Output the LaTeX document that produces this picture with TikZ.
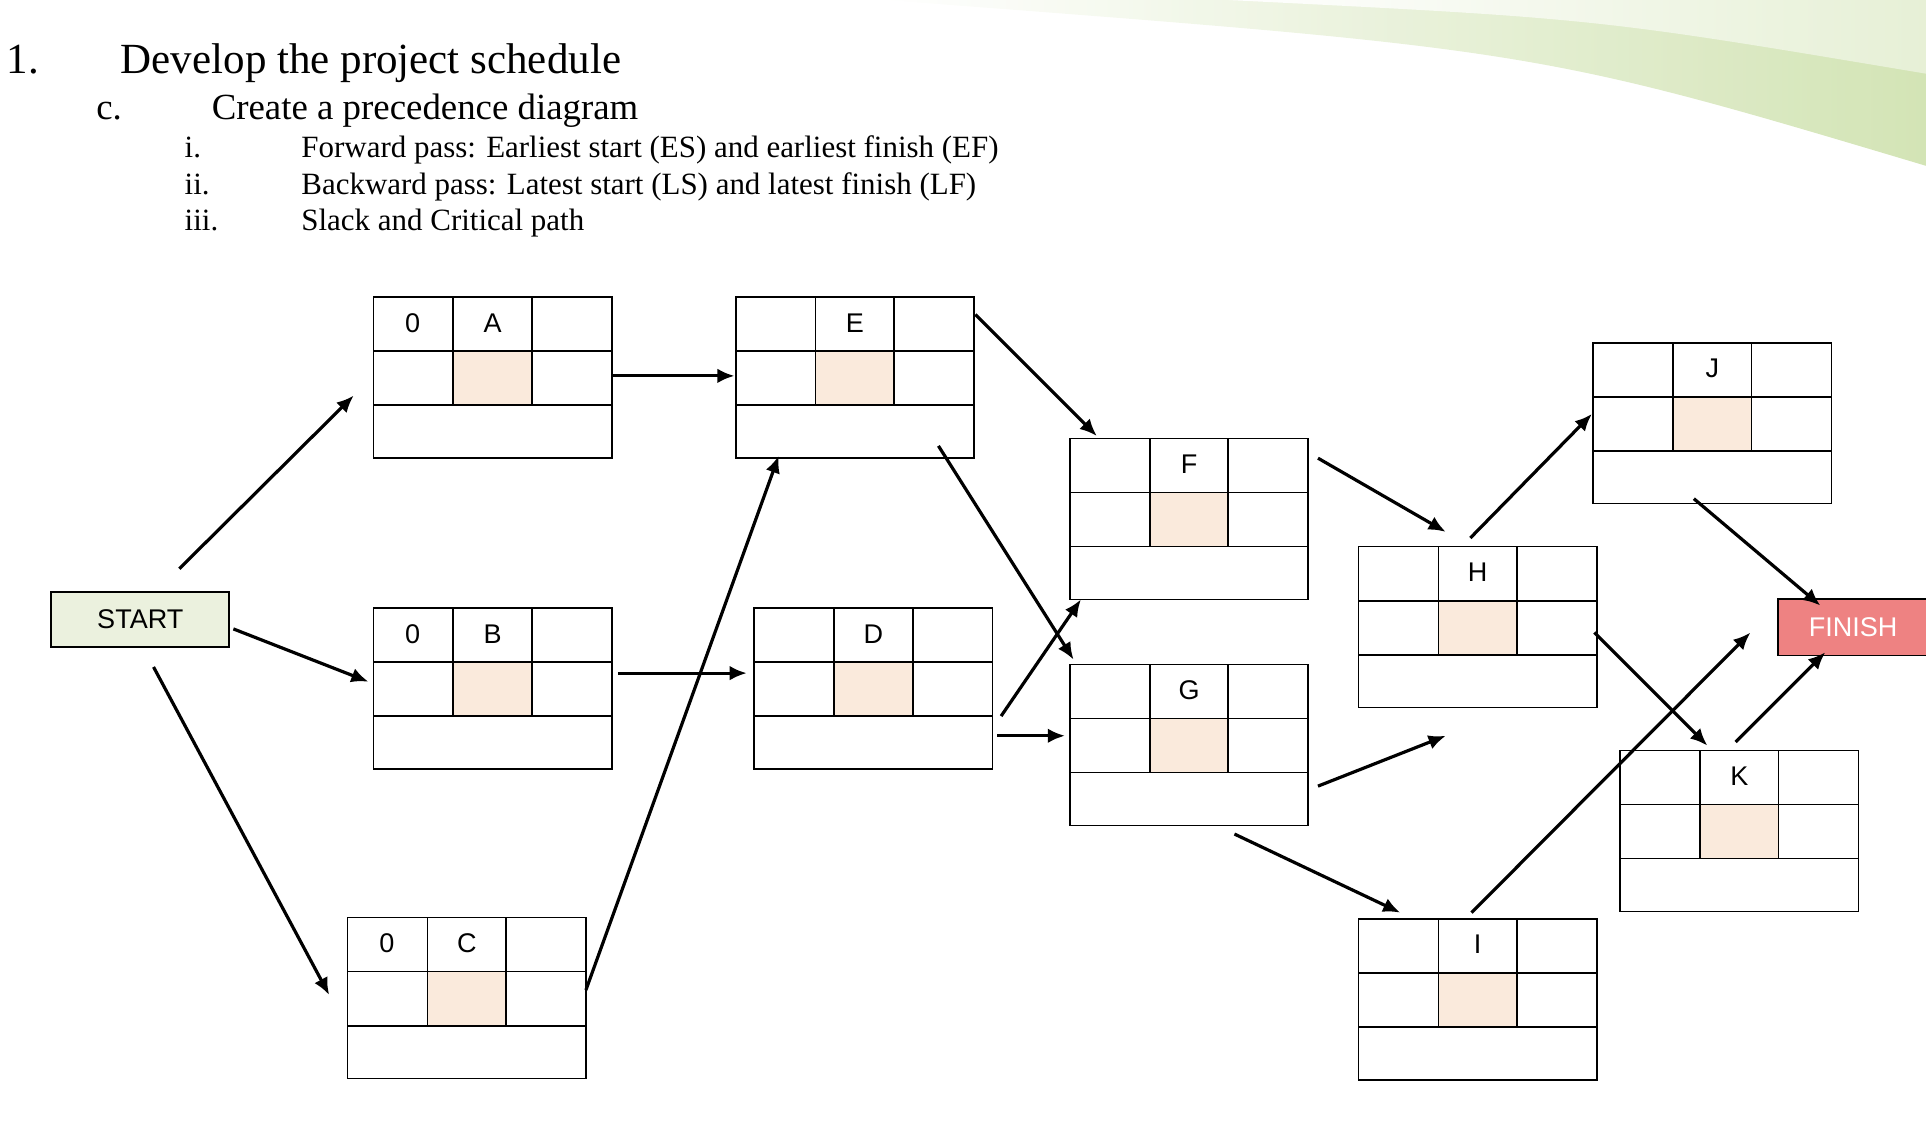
\documentclass[tikz,border=0pt]{standalone}
\usepackage{fontspec}
\setmainfont{Liberation Serif}
\setsansfont{Liberation Sans}
\usetikzlibrary{arrows.meta}
\definecolor{cellfill}{HTML}{FAEADC}
\definecolor{startfill}{HTML}{EBF1DE}
\definecolor{finfill}{HTML}{EE8282}
\definecolor{swoosh}{HTML}{B9D48A}
\tikzset{arr/.style={line width=1.3pt,-{Latex[length=7pt,width=6pt]}},
 cellbox/.style={line width=0.7pt},
 lbl/.style={font=\sffamily\fontsize{11}{13}\selectfont},
 ttl/.style={anchor=base west,inner sep=0pt}}
\newcommand\actbox[5]{%
 \fill[cellfill] (#2+65,#3+44) rectangle (#2+129,#3+88);
 \draw[cellbox] (#2,#3) rectangle (#2+194,#3+131);
 \draw[cellbox] (#2,#3+44) -- (#2+194,#3+44) (#2,#3+88) -- (#2+194,#3+88)
   (#2+65,#3) -- (#2+65,#3+88) (#2+129,#3) -- (#2+129,#3+88);
 \node[lbl] (#1es) at (#2+32,#3+21) {#5};
 \node[lbl] (#1) at (#2+97,#3+21) {#4};
}
\begin{document}
\begin{tikzpicture}[x=0.5pt,y=-0.5pt]
\useasboundingbox (0,0) rectangle (1568,928);
% swoosh
\shade[left color=white,right color=swoosh!70,opacity=0.9] (720,0) -- (1568,0) -- (1568,135) .. controls (1250,40) .. (720,0) -- cycle;
\shade[left color=white,right color=swoosh!35] (1000,0) -- (1568,0) -- (1568,60) .. controls (1300,15) .. (1000,0) -- cycle;
% titles
\node[ttl,font=\fontsize{17.5}{20}\selectfont] (t1n) at (5,60) {1.};
\node[ttl,font=\fontsize{17.5}{20}\selectfont] (t1) at (98,60) {Develop the project schedule};
\node[ttl,font=\fontsize{15}{17}\selectfont] (t2n) at (78,97) {c.};
\node[ttl,font=\fontsize{15}{17}\selectfont] (t2) at (172,97) {Create a precedence diagram};
\foreach \n/\t/\y in {i/{Forward pass: Earliest start (ES) and earliest finish (EF)}/128, ii/{Backward pass: Latest start (LS) and latest finish (LF)}/158, iii/{Slack and Critical path}/188}{
 \node[ttl,font=\fontsize{12.6}{14}\selectfont] at (150,\y) {\n.};
 \node[ttl,font=\fontsize{12.6}{14}\selectfont] at (245,\y) {\t};
}
% boxes
\actbox{A}{304}{242}{A}{0}
\actbox{E}{599}{242}{E}{}
\actbox{B}{304}{495}{B}{0}
\actbox{D}{614}{495}{D}{}
\actbox{C}{283}{747}{C}{0}
\actbox{F}{871}{357}{F}{}
\actbox{G}{871}{541}{G}{}
\actbox{H}{1106}{445}{H}{}
\actbox{I}{1106}{748}{I}{}
\actbox{J}{1297}{279}{J}{}
\actbox{K}{1319}{611}{K}{}
\node[draw,line width=0.7pt,fill=startfill,lbl,minimum width=72.5pt,minimum height=22.5pt,anchor=north west] (start) at (41,481) {START};
\node[draw,line width=0.7pt,fill=finfill,lbl,text=white,minimum width=61pt,minimum height=23pt,anchor=north west] (finish) at (1447,487) {FINISH};
% arrows
\draw[arr] (146,463) coordinate (s1) -- (288,322) coordinate (a1);
\draw[arr] (190,512) coordinate (s2) -- (300,555) coordinate (b1);
\draw[arr] (125,543) coordinate (s3) -- (268,810) coordinate (c1);
\draw[arr] (498,306) coordinate (a2) -- (598,306) coordinate (e1);
\draw[arr] (503,548) coordinate (b2) -- (608,548) coordinate (d1);
\draw[arr] (477,806) coordinate (c2) -- (634,371) coordinate (e2);
\draw[arr] (794,256) coordinate (e3) -- (893,355) coordinate (f1);
\draw[arr] (764,363) coordinate (e4) -- (874,537) coordinate (g1);
\draw[arr] (815,583) coordinate (d2) -- (880,488) coordinate (f2);
\draw[arr] (812,599) coordinate (d3) -- (867,599) coordinate (g2);
\draw[arr] (1073,373) coordinate (f3) -- (1177,433) coordinate (h1);
\draw[arr] (1073,640) coordinate (g3) -- (1177,599) coordinate (h2);
\draw[arr] (1005,679) coordinate (g4) -- (1140,743) coordinate (i1);
\draw[arr] (1197,438) coordinate (h3) -- (1296,337) coordinate (j1);
\draw[arr] (1298,515) coordinate (h4) -- (1390,607) coordinate (k1);
\draw[arr] (1198,743) coordinate (i2) -- (1425,515) coordinate (fi1);
\draw[arr] (1379,406) coordinate (j2) -- (1482,493) coordinate (fi2);
\draw[arr] (1413,604) coordinate (k2) -- (1486,531) coordinate (fi3);
\end{tikzpicture}
\end{document}
